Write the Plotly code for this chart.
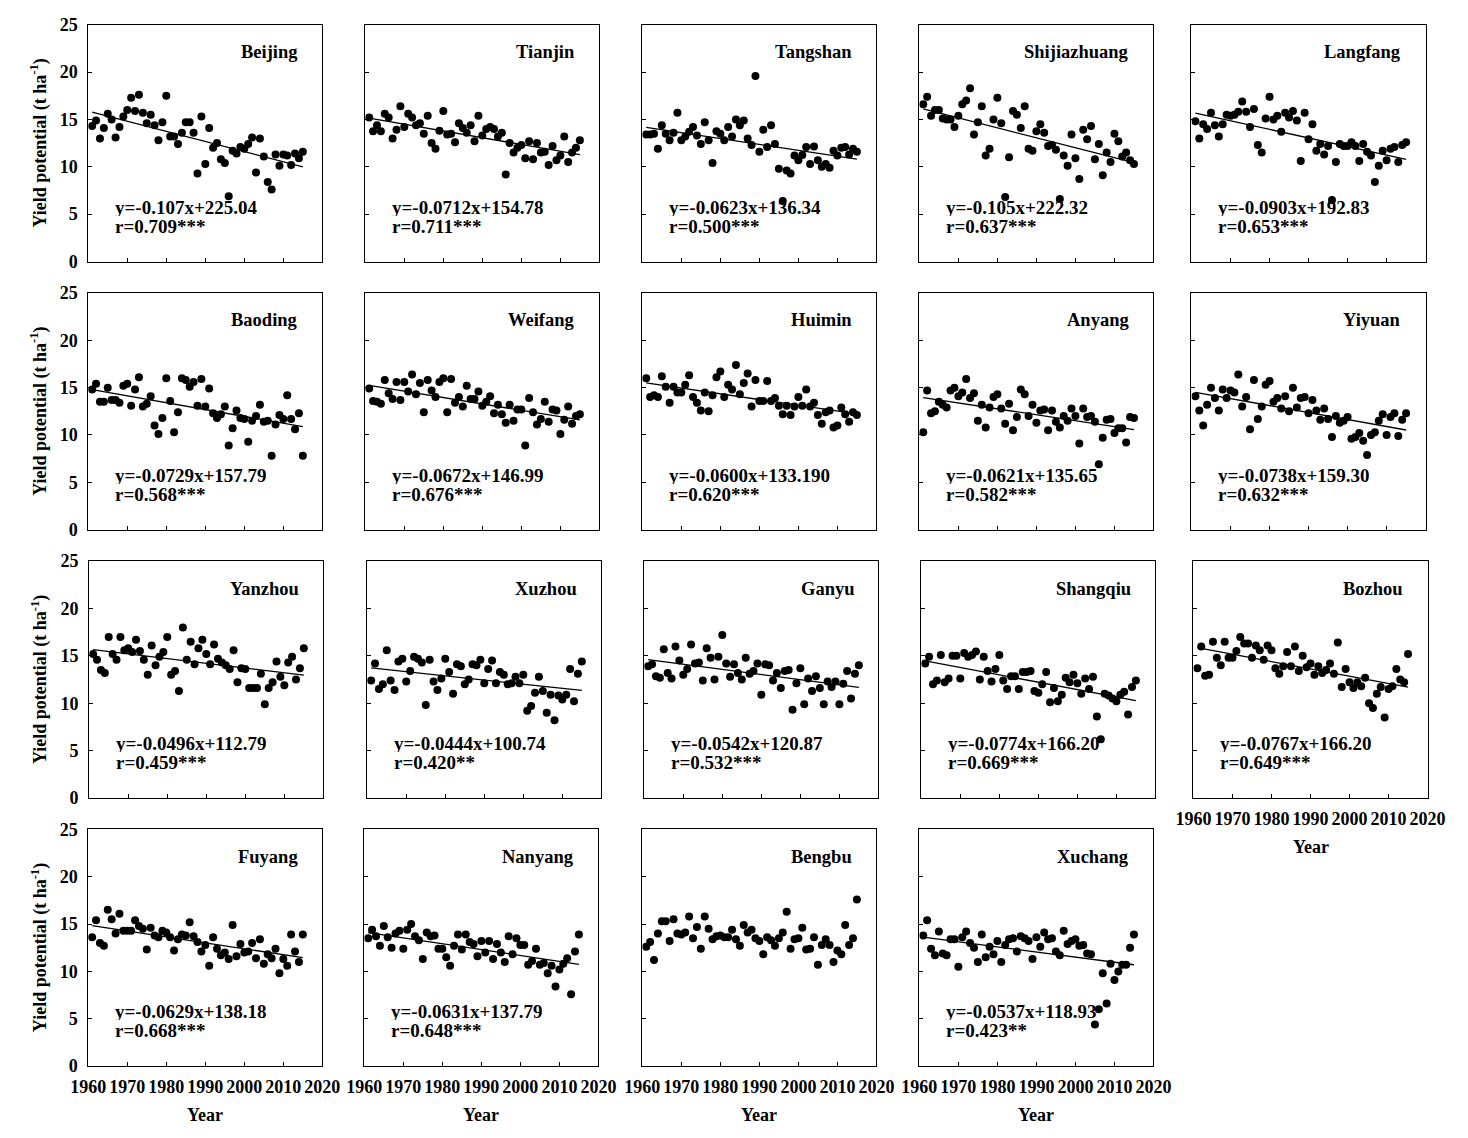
import numpy as np
import plotly.graph_objects as go

years = list(range(1961, 2016))

beijing = [14.3,14.9,13.0,14.1,15.6,15.0,13.1,14.2,15.3,16.0,17.3,15.9,17.6,15.7,14.6,15.5,14.4,12.8,14.7,17.5,
           13.2,13.2,12.4,13.6,14.7,14.7,13.6,9.3,15.3,10.3,14.1,12.0,12.5,10.8,10.4,6.9,11.7,11.4,12.1,11.9,
           12.4,13.1,9.4,13.0,11.1,8.4,7.6,11.3,10.1,11.3,11.2,10.2,11.4,10.9,11.6]
tianjin = [15.2,13.75,14.4,13.75,15.6,15.2,13.0,13.9,16.4,14.2,15.6,15.2,14.4,14.6,13.5,15.4,12.5,11.9,13.8,15.9,
           13.4,13.5,12.6,14.6,14.1,13.6,14.4,12.7,15.4,13.3,14.0,14.2,14.0,13.2,13.6,9.2,12.5,11.5,12.0,12.3,
           10.9,12.7,10.8,12.5,11.5,11.6,10.2,12.2,10.7,11.2,13.2,10.5,11.5,12.0,12.8]
tangshan = [13.4,13.4,13.5,11.9,14.4,13.5,12.8,13.6,15.7,12.8,13.2,13.7,14.2,13.3,12.4,14.7,12.8,10.4,13.75,13.5,
            12.8,14.2,13.2,15.0,14.4,14.9,13.0,12.3,19.6,11.6,13.9,12.1,14.4,12.4,9.8,6.4,9.6,9.3,11.2,10.7,
            11.25,12.1,10.3,12.15,10.7,10.0,10.3,9.9,11.7,11.2,12.0,12.1,11.3,11.9,11.6]
shijiazhuang = [16.6,17.4,15.4,16.0,16.0,15.1,15.0,15.0,14.2,15.4,16.6,17.0,18.3,13.4,14.7,16.4,11.2,11.9,15.0,17.3,
                14.6,6.8,11.0,15.9,15.5,14.1,16.4,11.9,11.7,13.75,14.5,13.6,12.2,12.3,11.8,6.6,11.2,10.1,13.4,10.9,
                8.7,13.9,12.9,14.3,10.8,12.4,9.1,11.5,10.5,13.5,12.7,11.1,11.5,10.7,10.3]
langfang = [14.8,13.0,14.5,14.0,15.7,14.4,13.2,14.5,15.5,15.4,15.5,15.8,16.9,15.8,14.2,16.1,12.3,11.5,15.1,17.4,
            15.0,15.4,13.7,15.7,15.2,15.9,14.9,10.6,15.7,12.9,14.5,11.7,12.4,11.3,12.2,6.5,10.5,12.4,12.2,12.2,
            12.6,12.2,10.6,12.4,11.6,11.2,8.4,10.1,11.7,10.7,11.9,12.1,10.5,12.3,12.6]
baoding = [14.8,15.4,13.5,13.5,15.0,13.7,13.7,13.4,15.2,15.4,13.1,14.8,16.1,13.0,13.3,14.1,11.0,10.1,11.8,16.0,
           13.6,10.3,12.4,16.0,15.8,15.1,15.6,13.1,15.9,13.0,14.9,12.3,11.8,12.2,13.0,8.9,10.7,12.6,11.8,11.7,
           9.3,11.5,12.0,13.2,11.4,11.5,7.8,11.1,12.1,11.7,14.2,11.7,10.6,12.3,7.8]
weifang = [14.9,13.6,13.5,13.3,15.8,14.4,13.8,15.6,13.7,15.6,14.6,16.4,14.3,15.5,12.4,15.8,14.7,14.0,15.6,16.0,
           12.4,15.9,13.4,14.0,13.0,15.2,13.8,13.8,14.6,13.1,13.5,14.1,12.3,13.2,12.2,11.3,13.2,11.5,12.7,12.7,
           8.9,13.9,12.4,11.1,11.7,13.5,11.4,12.7,12.6,10.1,11.6,13.0,11.2,12.0,12.2]
huimin = [16.0,14.0,14.2,14.0,16.2,15.1,13.4,15.1,14.5,14.5,15.3,16.3,14.0,13.4,12.6,14.5,12.5,14.2,16.1,16.7,
          14.0,15.3,14.8,17.4,14.3,15.5,16.5,13.0,15.8,13.6,13.6,15.7,13.6,13.9,13.1,12.2,13.1,12.1,13.0,14.0,
          13.1,14.8,13.0,13.4,12.1,11.2,12.4,12.6,10.8,11.0,12.9,12.2,11.4,12.4,12.1]
anyang = [10.3,14.7,12.3,12.5,13.5,13.2,12.9,14.7,15.0,14.1,14.5,15.9,13.9,14.4,11.5,13.2,10.8,12.9,14.0,14.3,
          12.8,11.2,13.3,10.5,11.9,14.8,14.3,12.0,13.2,11.3,12.6,12.7,10.5,12.6,11.4,10.8,12.0,11.5,12.8,12.0,
          9.1,12.8,11.9,12.0,11.4,6.9,9.7,11.6,11.7,10.2,10.7,10.7,9.2,11.9,11.8]
yiyuan = [14.1,12.6,11.0,13.2,15.0,13.9,12.6,14.8,13.9,14.7,14.5,16.4,13.0,14.0,10.6,15.8,11.7,13.0,15.3,15.7,
          13.5,13.9,12.8,14.1,12.5,15.0,12.9,13.9,14.0,12.3,13.7,12.6,11.6,12.8,11.7,9.8,12.0,11.3,11.5,11.9,
          9.6,9.8,10.2,9.4,7.9,10.0,10.3,11.5,12.2,10.0,11.9,12.3,9.9,11.6,12.3]
yanzhou = [15.2,14.6,13.5,13.2,17.0,15.2,14.6,17.0,15.6,15.8,15.4,16.7,15.5,14.6,13.0,16.1,14.0,14.9,15.4,17.0,
           13.0,13.4,11.3,18.0,14.6,16.5,14.1,15.8,16.7,15.2,14.1,16.2,14.7,14.3,14.0,13.6,15.6,12.2,13.7,13.6,
           11.6,11.6,11.6,13.1,9.9,11.6,12.2,14.4,12.8,11.9,14.3,14.9,12.5,13.7,15.8]
xuzhou = [12.4,14.2,11.5,12.0,15.6,12.4,11.4,14.4,14.7,12.3,13.4,14.9,14.7,14.3,9.8,14.6,12.3,11.4,12.6,14.7,
          13.3,11.0,14.1,13.9,12.0,12.5,14.1,14.0,14.6,12.1,13.6,14.5,12.1,13.3,13.0,12.0,12.1,12.8,12.1,13.0,
          9.2,9.7,11.1,12.8,11.3,9.0,10.9,8.2,10.8,10.4,10.9,13.6,10.2,13.1,14.4]
ganyu = [13.9,14.1,12.85,12.7,15.7,13.2,12.6,16.0,14.5,13.0,13.6,16.2,14.2,14.3,12.4,15.8,14.8,12.5,14.9,17.2,
         14.2,12.8,14.1,13.2,12.5,14.8,13.1,13.4,14.2,10.9,14.1,14.0,12.4,13.2,11.6,13.4,13.5,9.3,12.1,13.7,
         9.9,12.6,11.3,12.85,11.6,9.9,12.3,11.7,12.3,9.9,12.05,13.4,10.5,13.1,14.0]
shangqiu = [14.2,14.9,12.0,12.4,15.1,12.2,12.6,15.0,15.0,12.6,15.3,14.9,15.1,15.45,12.5,14.9,13.4,12.3,13.6,15.1,
            12.4,11.5,12.85,12.85,11.5,13.3,13.3,13.4,11.3,11.1,12.0,13.3,10.1,11.6,10.2,10.9,12.7,12.2,13.0,12.1,
            11.0,12.6,11.5,12.8,8.6,6.2,11.0,10.8,10.5,10.2,10.9,11.2,8.8,11.7,12.4]
bozhou = [13.7,16.0,12.9,13.0,16.5,14.8,14.0,16.5,14.8,14.8,15.5,17.0,16.3,16.3,14.8,16.1,15.6,14.6,16.1,15.6,
          13.7,13.1,13.9,15.4,13.9,16.0,13.4,15.0,13.8,14.2,13.0,13.9,13.2,13.5,14.2,13.1,16.4,11.7,13.6,12.2,
          11.6,12.2,11.8,12.7,10.0,9.5,11.0,11.7,8.5,11.5,11.8,13.6,12.5,12.2,15.2]
fuyang = [13.6,15.4,13.0,12.7,16.5,15.5,14.0,16.1,14.3,14.3,14.3,15.4,14.8,14.5,12.3,14.6,13.8,13.6,14.3,14.1,
          13.6,12.2,13.4,13.9,13.8,15.2,13.7,13.1,12.1,12.8,10.6,13.6,12.4,11.7,12.0,11.3,14.9,11.6,12.9,12.0,
          12.1,13.0,11.4,13.4,10.8,11.8,11.4,12.4,9.8,11.3,10.6,13.9,12.1,11.0,13.9]
nanyang = [13.5,14.4,13.7,12.7,14.8,13.6,12.5,14.0,14.3,12.4,14.4,15.0,13.7,13.3,11.3,14.1,13.7,13.8,12.4,12.4,
           11.5,10.6,12.7,13.9,12.3,13.9,13.1,12.9,11.6,13.2,12.0,13.2,11.3,12.9,12.0,11.0,13.7,11.8,13.5,12.8,
           12.8,10.7,11.1,12.4,10.7,10.9,9.8,10.6,8.4,10.2,10.8,11.4,7.6,12.1,13.9]
bengbu = [12.6,13.1,11.2,14.0,15.3,15.3,13.2,15.5,14.0,13.9,14.1,15.8,13.5,14.7,12.4,15.8,14.5,13.4,13.7,13.8,
          13.6,13.6,14.4,13.4,12.7,14.9,14.1,14.4,13.5,13.2,11.8,13.6,13.3,12.7,13.5,14.1,16.3,12.4,13.4,13.5,
          14.6,12.3,12.4,13.6,10.7,12.8,13.4,12.8,11.0,12.2,11.8,14.9,12.8,13.5,17.6]
xuchang = [13.8,15.4,12.4,11.7,14.2,11.9,11.7,13.4,13.4,10.5,13.6,14.2,13.0,12.5,11.0,13.9,11.5,12.6,11.8,13.2,
           11.0,12.8,13.4,13.5,12.1,13.7,13.5,13.2,11.3,13.6,12.6,14.1,13.4,13.5,12.1,11.7,14.3,12.9,13.2,13.4,
           12.7,12.8,11.9,11.8,4.4,6.0,9.8,6.6,10.8,9.1,10.0,10.7,10.7,12.5,13.9]

station_names = ["Beijing", "Tianjin", "Tangshan", "Shijiazhuang", "Langfang",
                 "Baoding", "Weifang", "Huimin", "Anyang", "Yiyuan",
                 "Yanzhou", "Xuzhou", "Ganyu", "Shangqiu", "Bozhou",
                 "Fuyang", "Nanyang", "Bengbu", "Xuchang"]
station_values = [beijing, tianjin, tangshan, shijiazhuang, langfang,
                  baoding, weifang, huimin, anyang, yiyuan,
                  yanzhou, xuzhou, ganyu, shangqiu, bozhou,
                  fuyang, nanyang, bengbu, xuchang]
equations = ["y=-0.107x+225.04", "y=-0.0712x+154.78", "y=-0.0623x+136.34", "y=-0.105x+222.32", "y=-0.0903x+192.83",
             "y=-0.0729x+157.79", "y=-0.0672x+146.99", "y=-0.0600x+133.190", "y=-0.0621x+135.65", "y=-0.0738x+159.30",
             "y=-0.0496x+112.79", "y=-0.0444x+100.74", "y=-0.0542x+120.87", "y=-0.0774x+166.20", "y=-0.0767x+166.20",
             "y=-0.0629x+138.18", "y=-0.0631x+137.79", "", "y=-0.0537x+118.93"]
r_labels = ["r=0.709***", "r=0.711***", "r=0.500***", "r=0.637***", "r=0.653***",
            "r=0.568***", "r=0.676***", "r=0.620***", "r=0.582***", "r=0.632***",
            "r=0.459***", "r=0.420**", "r=0.532***", "r=0.669***", "r=0.649***",
            "r=0.668***", "r=0.648***", "", "r=0.423**"]
x_ticks = [1960, 1970, 1980, 1990, 2000, 2010, 2020]
y_ticks = [0, 5, 10, 15, 20, 25]

# layout (pixels)
W, H = 1468, 1138
PW = 240
panel_left = [72, 356, 640, 924, 1203,
              72, 356, 640, 924, 1203,
              73, 358, 642, 926, 1205,
              72, 355, 640, 924]
row_top = [15, 288, 561, 834]
row_bot = [256, 529, 802, 1075]
panel_row = [0]*5 + [1]*5 + [2]*5 + [3]*4
show_x_labels = [False]*14 + [True] + [True]*4
show_y_labels = [i % 5 == 0 for i in range(19)]

FONT = "Liberation Serif"
fig = go.Figure()
annotations = []
layout_axes = {}

for i, (name, vals) in enumerate(zip(station_names, station_values)):
    n = i + 1
    xa = "x" if n == 1 else f"x{n}"
    ya = "y" if n == 1 else f"y{n}"
    fig.add_trace(go.Scatter(x=years, y=vals, mode="markers", xaxis=xa, yaxis=ya,
                             marker=dict(color="black", size=8), showlegend=False,
                             hoverinfo="x+y"))
    if equations[i]:
        slope, icpt = np.polyfit(years, vals, 1)
        xs = [years[0], years[-1]]
        fig.add_trace(go.Scatter(x=xs, y=[slope * xs[0] + icpt, slope * xs[1] + icpt],
                                 mode="lines", xaxis=xa, yaxis=ya,
                                 line=dict(color="black", width=1.3), showlegend=False,
                                 hoverinfo="skip"))
    r = panel_row[i]
    left = panel_left[i]
    xdom = [left / W, (left + PW) / W]
    ydom = [1 - row_bot[r] / H, 1 - row_top[r] / H]
    axkey = "xaxis" if n == 1 else f"xaxis{n}"
    aykey = "yaxis" if n == 1 else f"yaxis{n}"
    common = dict(showline=True, mirror=True, linecolor="black", linewidth=1,
                  ticks="inside", ticklen=4, tickwidth=1, tickcolor="black",
                  showgrid=False, zeroline=False,
                  tickfont=dict(family=FONT, size=18, color="black", weight="bold"))
    layout_axes[axkey] = dict(common, domain=xdom, anchor=ya, range=[1960, 2020],
                              tickvals=x_ticks, showticklabels=show_x_labels[i],
                              ticklabelstandoff=4)
    layout_axes[aykey] = dict(common, domain=ydom, anchor=xa, range=[0, 25],
                              tickvals=y_ticks, showticklabels=show_y_labels[i],
                              ticklabelstandoff=6)
    annotations.append(dict(x=2014.3, y=22.1, xref=xa, yref=ya, text=name, showarrow=False,
                            xanchor="right", yanchor="middle",
                            font=dict(family=FONT, size=18.5, color="black", weight="bold")))
    if equations[i]:
        annotations.append(dict(x=1966.6, y=5.8, xref=xa, yref=ya, text=equations[i], showarrow=False,
                                xanchor="left", yanchor="middle", height=18, borderpad=0,
                                font=dict(family=FONT, size=19, color="black", weight="bold")))
        annotations.append(dict(x=1966.6, y=3.8, xref=xa, yref=ya, text=r_labels[i], showarrow=False,
                                xanchor="left", yanchor="middle", height=18, borderpad=0,
                                font=dict(family=FONT, size=19, color="black", weight="bold")))
    if show_x_labels[i]:
        annotations.append(dict(x=(left + PW / 2) / W, y=1 - (row_bot[r] + 50) / H,
                                xref="paper", yref="paper", text="Year", showarrow=False,
                                xanchor="center", yanchor="middle",
                                font=dict(family=FONT, size=18, color="black", weight="bold")))

for r in range(4):
    annotations.append(dict(x=22 / W, y=1 - (row_top[r] + row_bot[r]) / 2 / H,
                            xref="paper", yref="paper", text="Yield potential (t ha<sup>-1</sup>)",
                            showarrow=False, textangle=-90, xanchor="center", yanchor="middle",
                            font=dict(family=FONT, size=18, color="black", weight="bold")))

fig.update_layout(width=W, height=H, margin=dict(l=0, r=0, t=0, b=0),
                  paper_bgcolor="white", plot_bgcolor="white",
                  annotations=annotations, **layout_axes)

fig.write_html("out.html")
